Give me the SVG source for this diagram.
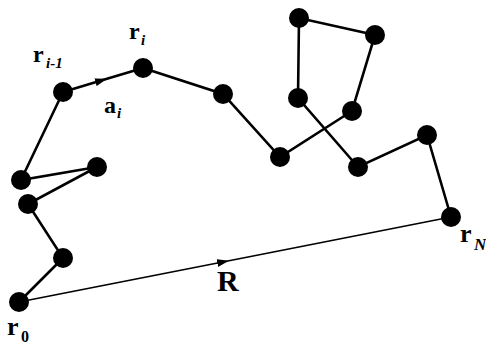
<svg xmlns="http://www.w3.org/2000/svg" width="486" height="344" viewBox="0 0 486 344">
<defs>
<style>
.bond{stroke:#000;stroke-width:2.6;fill:none;stroke-linecap:round}
.vec{stroke:#000;stroke-width:1.6;fill:none}
.bead{fill:#000}
.lbl{font-family:"Liberation Serif",serif;font-weight:bold;fill:#000}
.sub{font-family:"Liberation Serif",serif;font-weight:bold;font-style:italic;fill:#000}
.up{font-style:normal}
</style>
<marker id="ah" viewBox="0 0 12 8" refX="12" refY="4" markerWidth="12" markerHeight="8" markerUnits="userSpaceOnUse" orient="auto">
<path d="M0,0 L12,4 L0,8 Z" fill="#000"/>
</marker>
</defs>
<g id="connectors">
<path class="bond" d="M19,302 L63,258 L28,204 L97,167 L21,180 L63,92"/>
<path class="bond" d="M63,92 L107,78.8 L143,68" marker-mid="url(#ah)"/>
<path class="bond" d="M143,68 L223,94 L280,157 L352,111 L375,35 L299,18 L298,98 L358,167 L427,135 L451,217"/>
<path class="vec" d="M19,302 L229,260.7 L451,217" marker-mid="url(#ah)"/>
</g>
<g id="r0"><circle class="bead" cx="19" cy="302" r="10"/></g>
<g id="b1"><circle class="bead" cx="63" cy="258" r="10"/></g>
<g id="b2"><circle class="bead" cx="28" cy="204" r="10"/></g>
<g id="b3"><circle class="bead" cx="97" cy="167" r="10"/></g>
<g id="b4"><circle class="bead" cx="21" cy="180" r="10"/></g>
<g id="ri-1"><circle class="bead" cx="63" cy="92" r="10"/></g>
<g id="ri"><circle class="bead" cx="143" cy="68" r="10"/></g>
<g id="b7"><circle class="bead" cx="223" cy="94" r="10"/></g>
<g id="b8"><circle class="bead" cx="280" cy="157" r="10"/></g>
<g id="b9"><circle class="bead" cx="352" cy="111" r="10"/></g>
<g id="b10"><circle class="bead" cx="375" cy="35" r="10"/></g>
<g id="b11"><circle class="bead" cx="299" cy="18" r="10"/></g>
<g id="b12"><circle class="bead" cx="298" cy="98" r="10"/></g>
<g id="b13"><circle class="bead" cx="358" cy="167" r="10"/></g>
<g id="b14"><circle class="bead" cx="427" cy="135" r="10"/></g>
<g id="rN"><circle class="bead" cx="451" cy="217" r="10"/></g>
<g id="labels">
<text class="lbl" x="33" y="62" font-size="24">r</text><text class="sub" x="46" y="68" font-size="15">i-1</text>
<text class="lbl" x="129" y="39" font-size="24">r</text><text class="sub" x="141" y="45" font-size="15">i</text>
<text class="lbl" x="104" y="113" font-size="24">a</text><text class="sub" x="117" y="118" font-size="15">i</text>
<text class="lbl" x="7" y="335" font-size="26">r</text><text class="sub up" x="21" y="342" font-size="16">0</text>
<text class="lbl" x="217" y="291" font-size="30">R</text>
<text class="lbl" x="460" y="242" font-size="26">r</text><text class="sub" x="474" y="250" font-size="17">N</text>
</g>
</svg>
